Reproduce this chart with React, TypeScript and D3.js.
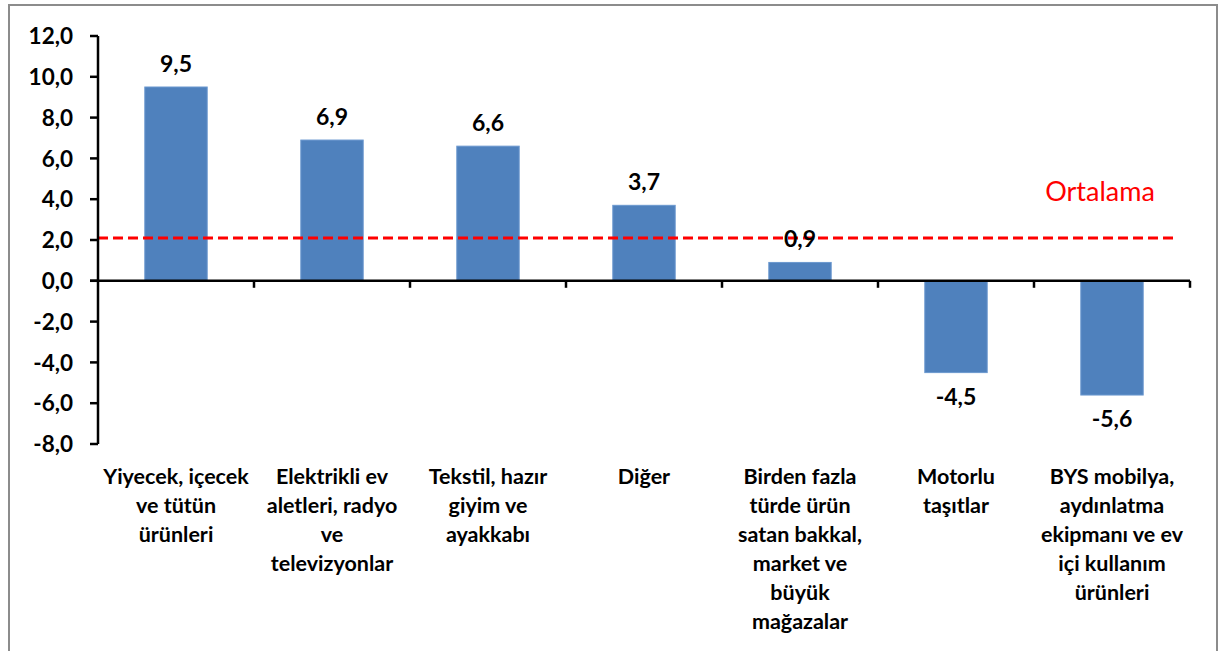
import * as d3 from "d3";
import React, { useEffect, useRef } from "react";

const categories = [
  ["Yiyecek, içecek", "ve tütün", "ürünleri"],
  ["Elektrikli ev", "aletleri, radyo", "ve", "televizyonlar"],
  ["Tekstil, hazır", "giyim ve", "ayakkabı"],
  ["Diğer"],
  ["Birden fazla", "türde ürün", "satan bakkal,", "market ve", "büyük", "mağazalar"],
  ["Motorlu", "taşıtlar"],
  ["BYS mobilya,", "aydınlatma", "ekipmanı ve ev", "içi kullanım", "ürünleri"],
];
const values = [9.5, 6.9, 6.6, 3.7, 0.9, -4.5, -5.6];
const yTicks = [12, 10, 8, 6, 4, 2, 0, -2, -4, -6, -8];
const average = 2.1;
const averageLabel = "Ortalama";

const W = 1223;
const H = 651;
const FONT = "Lato, 'Open Sans', sans-serif";

export default function App() {
  const ref = useRef<SVGSVGElement | null>(null);

  useEffect(() => {
    document.body.style.margin = "0";
    const svg = d3.select(ref.current);
    svg.selectAll("*").remove();

    // outer frame
    svg
      .append("rect")
      .attr("x", 9)
      .attr("y", 5)
      .attr("width", 1208)
      .attr("height", 660)
      .attr("fill", "white")
      .attr("stroke", "#8c8c8c")
      .attr("stroke-width", 2);

    const x = d3
      .scaleBand<number>()
      .domain(values.map((_, i) => i))
      .range([98, 1190])
      .paddingInner(0.6)
      .paddingOuter(0.3);

    const y = d3.scaleLinear().domain([-8, 12]).range([444, 36]);

    const fmt = (v: number) => v.toFixed(1).replace(".", ",");

    // bars
    svg
      .selectAll(".bar")
      .data(values)
      .enter()
      .append("rect")
      .attr("class", "bar")
      .attr("x", (_, i) => x(i)!)
      .attr("y", (d) => y(Math.max(0, d)))
      .attr("width", x.bandwidth())
      .attr("height", (d) => Math.abs(y(d) - y(0)))
      .attr("fill", "#4f81bd")
      .attr("stroke", "#6b98cf")
      .attr("stroke-width", 1);

    // average line
    svg
      .append("line")
      .attr("x1", 98)
      .attr("x2", 1178)
      .attr("y1", y(average))
      .attr("y2", y(average))
      .attr("stroke", "#ff0000")
      .attr("stroke-width", 3)
      .attr("stroke-dasharray", "10,5");

    svg
      .append("text")
      .attr("x", 1100)
      .attr("y", 201)
      .attr("text-anchor", "middle")
      .attr("font-family", FONT)
      .attr("font-size", 27)
      .attr("fill", "#ff0000")
      .text(averageLabel);

    // y axis
    const yAxis = svg.append("g").attr("transform", "translate(98,0)");
    yAxis
      .append("line")
      .attr("y1", y(12))
      .attr("y2", y(-8))
      .attr("stroke", "black")
      .attr("stroke-width", 2.5);
    yAxis
      .selectAll(".yt")
      .data(yTicks)
      .enter()
      .append("line")
      .attr("x1", -8)
      .attr("x2", 0)
      .attr("y1", (d) => y(d))
      .attr("y2", (d) => y(d))
      .attr("stroke", "black")
      .attr("stroke-width", 2.5);
    yAxis
      .selectAll(".yl")
      .data(yTicks)
      .enter()
      .append("text")
      .attr("x", -25)
      .attr("y", (d) => y(d))
      .attr("dy", "0.36em")
      .attr("text-anchor", "end")
      .attr("font-family", FONT)
      .attr("font-weight", "bold")
      .attr("font-size", 22.5)
      .text((d) => fmt(d));

    // x axis at zero
    svg
      .append("line")
      .attr("x1", 90)
      .attr("x2", 1190)
      .attr("y1", y(0))
      .attr("y2", y(0))
      .attr("stroke", "black")
      .attr("stroke-width", 2.5);
    const step = x.step();
    const bounds = d3.range(1, values.length + 1).map((i) => 98 + i * step);
    svg
      .selectAll(".xt")
      .data(bounds)
      .enter()
      .append("line")
      .attr("x1", (d) => d)
      .attr("x2", (d) => d)
      .attr("y1", y(0))
      .attr("y2", y(0) + 7)
      .attr("stroke", "black")
      .attr("stroke-width", 2.5);

    // value labels
    svg
      .selectAll(".vl")
      .data(values)
      .enter()
      .append("text")
      .attr("x", (_, i) => x(i)! + x.bandwidth() / 2)
      .attr("y", (d) => (d >= 0 ? y(d) - 15 : y(d) + 32))
      .attr("text-anchor", "middle")
      .attr("font-family", FONT)
      .attr("font-weight", "bold")
      .attr("font-size", 23)
      .text((d) => fmt(d));

    // category labels
    const cat = svg
      .selectAll(".cl")
      .data(categories)
      .enter()
      .append("text")
      .attr("text-anchor", "middle")
      .attr("font-family", FONT)
      .attr("font-weight", "bold")
      .attr("font-size", 21.5);
    cat
      .selectAll("tspan")
      .data((d, i) => d.map((line) => ({ line, i })))
      .enter()
      .append("tspan")
      .attr("x", (d) => x(d.i)! + x.bandwidth() / 2)
      .attr("y", (_, j) => 484 + j * 29)
      .text((d) => d.line);
  }, []);

  return <svg ref={ref} width={W} height={H} style={{ display: "block" }} />;
}
